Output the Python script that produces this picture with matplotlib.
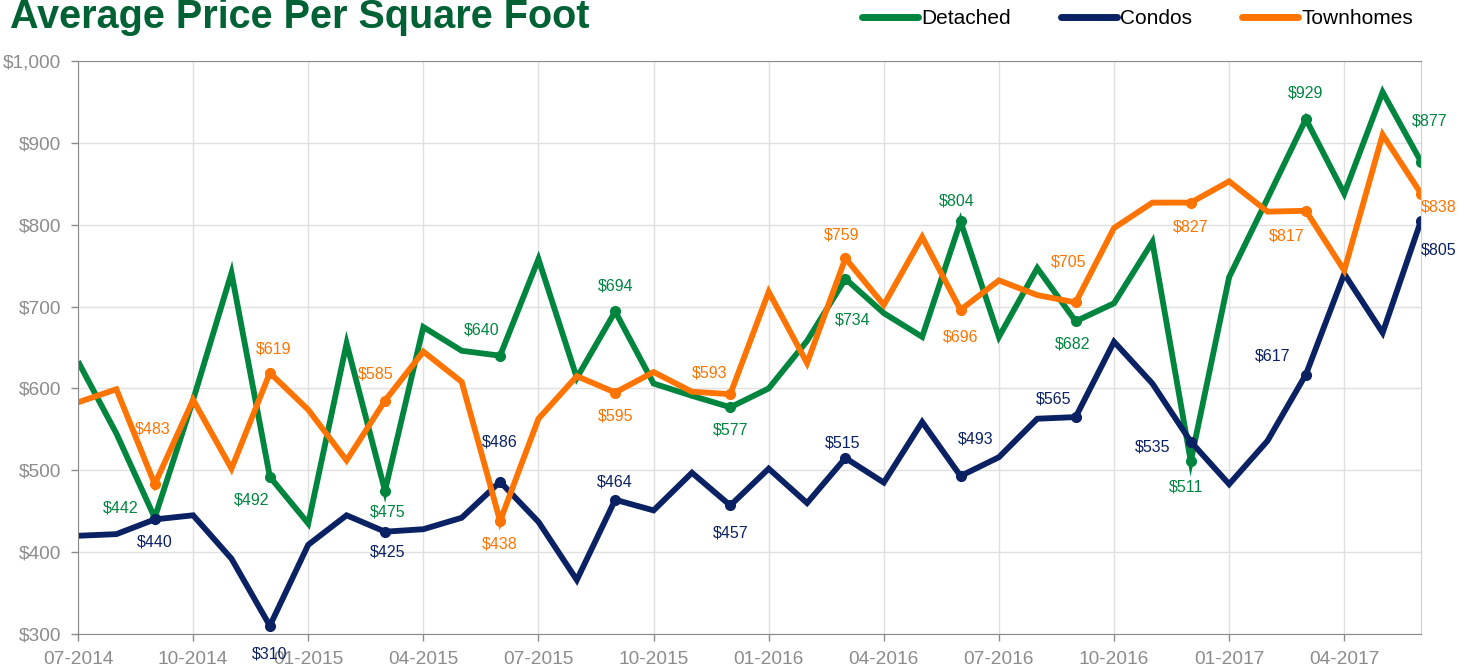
import matplotlib
matplotlib.use('Agg')
import matplotlib.pyplot as plt

months = ['07-2014', '08-2014', '09-2014', '10-2014', '11-2014', '12-2014',
          '01-2015', '02-2015', '03-2015', '04-2015', '05-2015', '06-2015',
          '07-2015', '08-2015', '09-2015', '10-2015', '11-2015', '12-2015',
          '01-2016', '02-2016', '03-2016', '04-2016', '05-2016', '06-2016',
          '07-2016', '08-2016', '09-2016', '10-2016', '11-2016', '12-2016',
          '01-2017', '02-2017', '03-2017', '04-2017', '05-2017', '06-2017']

detached = [633, 545, 442, 586, 741, 492, 435, 655, 475, 675, 646, 640,
            758, 613, 694, 606, 591, 577, 600, 658, 734, 692, 663, 804,
            663, 747, 682, 704, 779, 511, 736, 832, 929, 838, 962, 877]
condos = [420, 422, 440, 445, 392, 310, 409, 445, 425, 428, 442, 486,
          437, 366, 464, 451, 497, 457, 502, 460, 515, 485, 559, 493,
          516, 563, 565, 657, 606, 535, 483, 536, 617, 740, 668, 805]
townhomes = [583, 599, 483, 586, 502, 619, 574, 512, 585, 645, 608, 438,
             563, 615, 595, 620, 596, 593, 718, 631, 759, 702, 785, 696,
             732, 714, 705, 796, 827, 827, 853, 816, 817, 744, 910, 838]

# label offsets (pixels) for the marked points, every 3rd month from 09-2014
det_off = [(-34, 10), (-18, -23), (3, -21), (-18, 26), (0, 25), (0, -23),
           (7, -41), (-4, 20), (-3, -23), (-5, -26), (0, 26), (9, 41)]
con_off = [(0, -23), (0, -28), (3, -20), (0, 40), (0, 18), (0, -28),
           (-3, 15), (15, 37), (-22, 18), (-38, -5), (-33, 19), (18, -29)]
twn_off = [(-2, 55), (4, 24), (-9, 27), (0, -23), (0, -23), (-21, 21),
           (-4, 23), (0, -27), (-7, 40), (0, -24), (-19, -25), (18, -13)]

GREEN = '#00853f'
NAVY = '#0a2163'
ORANGE = '#ff7400'
GRAY = '#8c8c8c'
FONT = 'Liberation Sans'

fig = plt.figure(figsize=(14.74, 6.67), dpi=100)
ax = fig.add_axes([78/1474, 1 - 634/667, (1421-78)/1474, (634-61)/667])

x = list(range(len(months)))
marked = list(range(2, len(months), 3))

series = [('Detached', detached, GREEN, det_off),
          ('Condos', condos, NAVY, con_off),
          ('Townhomes', townhomes, ORANGE, twn_off)]

for name, vals, col, offs in series:
    ax.plot(x, vals, color=col, lw=4.2, solid_joinstyle='miter',
            solid_capstyle='butt', label=name)
    ax.plot(marked, [vals[i] for i in marked], 'o', color=col, ms=7)
    for i, (dx, dy) in zip(marked, offs):
        ax.annotate('${}'.format(vals[i]), (i, vals[i]), xytext=(dx, dy),
                    textcoords='offset pixels', ha='center', va='center',
                    color=col, fontsize=11.5, family=FONT)

ax.set_xlim(0, len(months) - 1)
ax.set_ylim(300, 1000)
ax.set_yticks(range(300, 1001, 100))
ax.set_yticklabels(['${:,}'.format(v) for v in range(300, 1001, 100)])
ax.set_xticks(x[::3])
ax.set_xticklabels(months[::3])
ax.tick_params(colors=GRAY, labelsize=13.8, length=5, width=1)
ax.tick_params(axis='y', pad=7)
ax.tick_params(axis='x', pad=7)
for lab in ax.get_xticklabels() + ax.get_yticklabels():
    lab.set_family(FONT)
ax.grid(True, color='#e0e0e0', lw=1)
ax.set_axisbelow(True)
for s in ['left', 'bottom', 'top']:
    ax.spines[s].set_color('#8a8a8a')
ax.spines['right'].set_color('#d0d0d0')

fig.text(10/1474, 1 - 28/667, 'Average Price Per Square Foot',
         family=FONT, fontsize=28.5, weight='bold', color='#006234',
         va='baseline', ha='left')

leg = fig.legend(loc='center right', bbox_to_anchor=(1432/1474, 1 - 19/667),
                 ncol=3, frameon=False, handlelength=2.7,
                 handletextpad=0.15, columnspacing=2.4,
                 prop={'family': FONT, 'size': 15})
for h in leg.legend_handles:
    h.set_solid_capstyle('round')
    h.set_linewidth(5)

fig.savefig('out.png', dpi=100)
